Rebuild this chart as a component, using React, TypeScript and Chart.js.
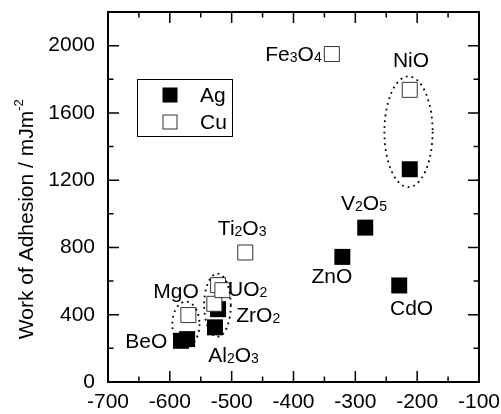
import React, { useEffect, useRef } from "react";
import { Chart, registerables } from "chart.js";
Chart.register(...registerables);

// Ag (filled squares)
const agX = [-212, -284, -321, -229, -527, -522, -582, -572];
const agY = [1265, 918, 744, 574, 325, 433, 245, 255];
// Cu (open squares)
const cuX = [-338, -212, -478, -570, -528, -522, -515];
const cuY = [1950, 1737, 770, 398, 465, 576, 546];

const seriesNames = ["Ag", "Cu"];

// compound labels (data coordinates: centre x, baseline y)
const labelText = ["Fe3O4", "NiO", "V2O5", "ZnO", "CdO", "Ti2O3", "MgO", "UO2", "ZrO2", "BeO", "Al2O3"];
const labelX = [-400, -210, -286, -338, -209, -483, -590, -474, -457, -638, -497];
const labelY = [1907, 1875, 1021, 589, 398, 872, 497, 510, 358, 200, 120];

// dotted ellipses (data units)
const ellCx = [-214, -574, -523];
const ellCy = [1488, 344, 457];
const ellRx = [39, 22, 21.5];
const ellRy = [329, 134, 188];

const X_MIN = -700, X_MAX = -100, X_STEP = 100, X_MINOR = 50;
const Y_MIN = 0, Y_MAX = 2200, Y_STEP = 400, Y_MINOR = 200;

const FONT = '"Liberation Sans", Arial, sans-serif';

function drawChem(ctx: CanvasRenderingContext2D, text: string, cx: number, baseY: number, size: number) {
  const parts = text.split(/(\d+)/).filter(Boolean);
  const sub = Math.round(size * 0.68);
  let w = 0;
  const items = parts.map((p) => {
    const isNum = /^\d+$/.test(p);
    ctx.font = `${isNum ? sub : size}px ${FONT}`;
    const m = ctx.measureText(p).width;
    w += m;
    return { p, isNum, m };
  });
  let x = cx - w / 2;
  ctx.textAlign = "left";
  ctx.textBaseline = "alphabetic";
  for (const it of items) {
    ctx.font = `${it.isNum ? sub : size}px ${FONT}`;
    ctx.fillText(it.p, x, baseY + (it.isNum ? 1 : 0));
    x += it.m;
  }
}

const overlay = {
  id: "overlay",
  afterDatasetsDraw(chart: any) {
    const ctx: CanvasRenderingContext2D = chart.ctx;
    const xs = chart.scales.x;
    const ys = chart.scales.y;
    const a = chart.chartArea;
    ctx.save();
    // ellipses
    ctx.strokeStyle = "#000";
    ctx.lineWidth = 1.8;
    ctx.setLineDash([1.8, 4]);
    for (let i = 0; i < ellCx.length; i++) {
      const cx = xs.getPixelForValue(ellCx[i]);
      const cy = ys.getPixelForValue(ellCy[i]);
      const rx = Math.abs(xs.getPixelForValue(ellCx[i] + ellRx[i]) - cx);
      const ry = Math.abs(ys.getPixelForValue(ellCy[i] + ellRy[i]) - cy);
      ctx.beginPath();
      ctx.ellipse(cx, cy, rx, ry, 0, 0, Math.PI * 2);
      ctx.stroke();
    }
    ctx.setLineDash([]);
    // labels
    ctx.fillStyle = "#000";
    for (let i = 0; i < labelText.length; i++) {
      drawChem(ctx, labelText[i], xs.getPixelForValue(labelX[i]), ys.getPixelForValue(labelY[i]), 21);
    }
    // frame
    ctx.lineWidth = 2;
    ctx.strokeStyle = "#000";
    ctx.strokeRect(a.left, a.top, a.right - a.left, a.bottom - a.top);
    // ticks
    ctx.lineWidth = 1.5;
    ctx.beginPath();
    for (let v = X_MIN; v <= X_MAX; v += X_MINOR) {
      const px = xs.getPixelForValue(v);
      const len = v % X_STEP === 0 ? 11 : 5.5;
      ctx.moveTo(px, a.bottom);
      ctx.lineTo(px, a.bottom - len);
      ctx.moveTo(px, a.top);
      ctx.lineTo(px, a.top + len);
    }
    for (let v = Y_MIN; v <= Y_MAX; v += Y_MINOR) {
      const py = ys.getPixelForValue(v);
      const len = v % Y_STEP === 0 ? 11 : 5.5;
      ctx.moveTo(a.left, py);
      ctx.lineTo(a.left + len, py);
      ctx.moveTo(a.right, py);
      ctx.lineTo(a.right - len, py);
    }
    ctx.stroke();
    // legend
    const lx = a.left + 29, ly = a.top + 67, lw = 95, lh = 57;
    ctx.fillStyle = "#fff";
    ctx.fillRect(lx, ly, lw, lh);
    ctx.lineWidth = 1;
    ctx.strokeStyle = "#000";
    ctx.strokeRect(lx + 0.5, ly + 0.5, lw, lh);
    const ds = chart.data.datasets;
    for (let i = 0; i < ds.length; i++) {
      const my = ly + 16 + i * 27;
      const mx = lx + 33;
      if (ds[i].backgroundColor === "#000000") {
        ctx.fillStyle = "#000";
        ctx.fillRect(mx - 7.5, my - 7.5, 15, 15);
      } else {
        ctx.fillStyle = "#fff";
        ctx.fillRect(mx - 7.5, my - 7.5, 15, 15);
        ctx.strokeStyle = "#333";
        ctx.lineWidth = 1;
        ctx.strokeRect(mx - 7, my - 7, 14, 14);
      }
      ctx.fillStyle = "#000";
      ctx.font = `21px ${FONT}`;
      ctx.textAlign = "left";
      ctx.textBaseline = "middle";
      ctx.fillText(seriesNames[i], lx + 63, my + 1);
    }
    // y title
    const main = "Work of Adhesion / mJm";
    ctx.font = `21px ${FONT}`;
    const wMain = ctx.measureText(main).width;
    ctx.font = `13px ${FONT}`;
    const wSup = ctx.measureText("-2").width;
    const total = wMain + wSup;
    const cy = a.top + (a.bottom - a.top) * 0.56;
    ctx.translate(33, cy);
    ctx.rotate(-Math.PI / 2);
    ctx.textAlign = "left";
    ctx.textBaseline = "alphabetic";
    ctx.fillStyle = "#000";
    ctx.font = `21px ${FONT}`;
    ctx.fillText(main, -total / 2, 0);
    ctx.font = `13px ${FONT}`;
    ctx.fillText("-2", -total / 2 + wMain, -10);
    ctx.restore();
  },
};

export default function App() {
  const ref = useRef<HTMLCanvasElement | null>(null);
  useEffect(() => {
    document.body.style.margin = "0";
    const canvas = ref.current;
    if (!canvas) return;
    const chart = new Chart(canvas, {
      type: "scatter",
      data: {
        datasets: [
          {
            label: seriesNames[0],
            data: agX.map((x, i) => ({ x, y: agY[i] })),
            backgroundColor: "#000000",
            borderColor: "#000000",
            borderWidth: 0,
            pointStyle: "rect",
            pointRadius: 11.3,
            order: 1,
          },
          {
            label: seriesNames[1],
            data: cuX.map((x, i) => ({ x, y: cuY[i] })),
            backgroundColor: "#ffffff",
            borderColor: "#333333",
            borderWidth: 1,
            pointStyle: "rect",
            pointRadius: 10.6,
            order: 0,
          },
        ],
      },
      options: {
        animation: false,
        responsive: false,
        layout: { padding: { left: 0, right: 22, top: 12, bottom: 0 } },
        plugins: { legend: { display: false }, tooltip: { enabled: false } },
        scales: {
          x: {
            type: "linear",
            min: X_MIN,
            max: X_MAX,
            grid: { display: false, drawTicks: false },
            border: { display: false },
            ticks: {
              stepSize: X_STEP,
              padding: 8,
              color: "#000",
              font: { family: FONT, size: 21 },
              maxRotation: 0,
            },
            afterFit: (s: any) => {
              s.height = 32;
              s.paddingLeft = 0;
              s.paddingRight = 0;
            },
          },
          y: {
            type: "linear",
            min: Y_MIN,
            max: Y_MAX,
            grid: { display: false, drawTicks: false },
            border: { display: false },
            ticks: {
              stepSize: Y_STEP,
              padding: 13,
              color: "#000",
              font: { family: FONT, size: 21 },
              callback: (v: any) => (Number(v) % Y_STEP === 0 && Number(v) <= 2000 ? String(v) : ""),
            },
            afterFit: (s: any) => {
              s.width = 108;
              s.paddingTop = 0;
              s.paddingBottom = 0;
            },
          },
        },
      },
      plugins: [overlay],
    });
    return () => chart.destroy();
  }, []);
  return (
    <div style={{ width: 501, height: 414, position: "relative" }}>
      <canvas ref={ref} width={501} height={414} style={{ display: "block" }} />
    </div>
  );
}
